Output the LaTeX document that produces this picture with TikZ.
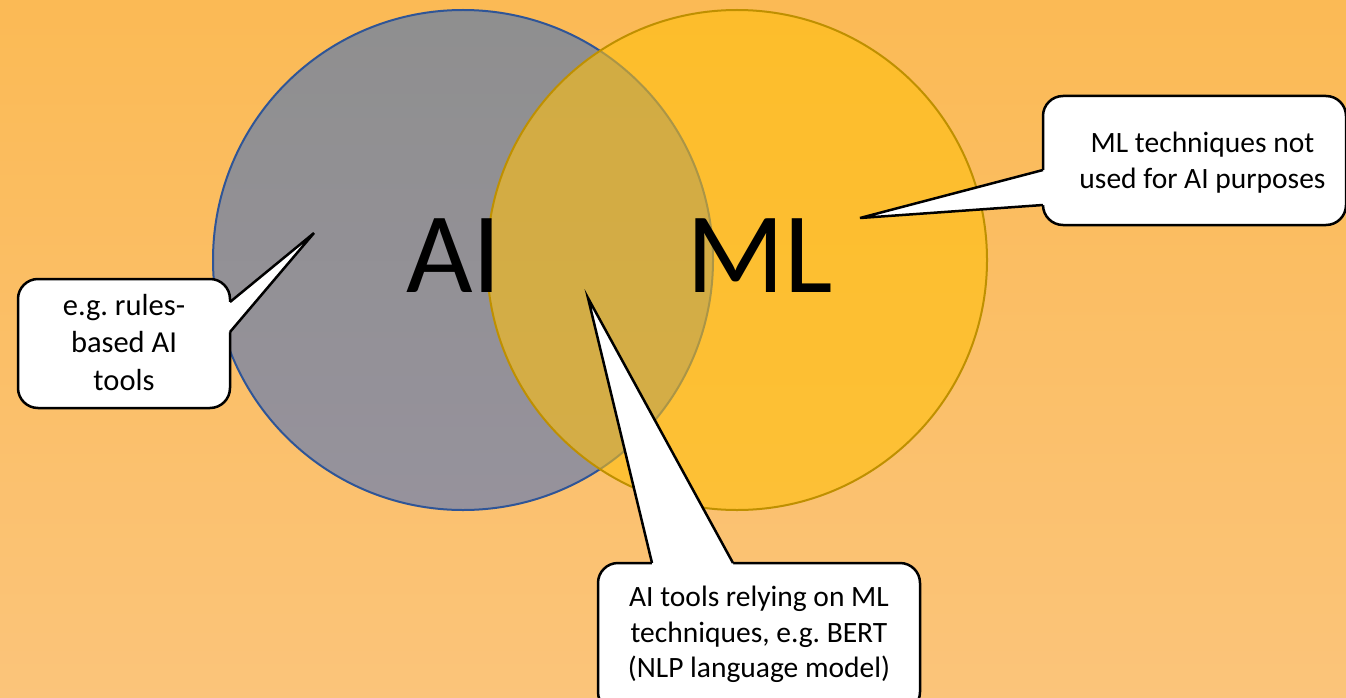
\documentclass[tikz,border=0pt]{standalone}
\usepackage{fontspec}
\setmainfont{Carlito}
\usetikzlibrary{calc}
\definecolor{bgtop}{HTML}{FBBA55}
\definecolor{bgbot}{HTML}{FBC47A}
\definecolor{aitop}{HTML}{8F8F8F}
\definecolor{aibot}{HTML}{96929C}
\definecolor{ailine}{HTML}{2F5597}
\definecolor{mlfill}{HTML}{FFC010}
\definecolor{mlline}{HTML}{BF9000}
\begin{document}
\frenchspacing
\begin{tikzpicture}[x=1pt,y=-1pt,
  calloutbox/.style={draw=black, line width=2.5pt, fill=white, rounded corners=20pt,
    inner sep=0pt, outer sep=0pt},
  callouttext/.style={align=center, font=\fontsize{29.5}{35.5}\selectfont, inner sep=0pt},
  wedgefill/.style={fill=white},
  wedgeline/.style={draw=black, line width=2.5pt, line join=miter},
  bigtext/.style={font=\fontsize{115}{130}\selectfont, anchor=base, inner sep=0pt}]
\useasboundingbox (0,0) rectangle (1346,698);
\clip (0,0) rectangle (1346,698);
\shade[top color=bgtop, bottom color=bgbot] (0,0) rectangle (1346,698);
% circles
\node[circle, minimum size=500pt, inner sep=0pt, outer sep=0pt, draw=ailine, line width=2pt,
  top color=aitop, bottom color=aibot] (ai) at (463,260) {};
\node[circle, minimum size=500pt, inner sep=0pt, outer sep=0pt, draw=mlline, line width=2pt,
  fill=mlfill, fill opacity=0.6, draw opacity=1] (ml) at (737,260) {};
\node[bigtext] (ailabel) at (454,292) {AI};
\node[bigtext] (mllabel) at (760,292) {ML};
% callout 1
\node[calloutbox, minimum width=212pt, minimum height=129pt] (c1) at (124,343.5) {};
\node[callouttext, font=\fontsize{30.5}{37.5}\selectfont] (c1text) at ($(c1.center)+(0,-1)$)
  {e.g. rules-\\based AI\\tools};
\coordinate (t1) at (314,233);
\path (c1.east) ++(0,-41.5) coordinate (c1a);
\path (c1.east) ++(0,-11.5) coordinate (c1b);
\fill[wedgefill] (c1a) -- (t1) -- (c1b) -- ($(c1b)+(-4,0)$) -- ($(c1a)+(-4,0)$) -- cycle;
\draw[wedgeline] (c1a) -- (t1) -- (c1b);
% callout 2
\node[calloutbox, minimum width=303pt, minimum height=129pt] (c2) at (1194.5,160.5) {};
\node[callouttext] (c2text) at ($(c2.center)+(8,2)$)
  {ML techniques not\\used for AI purposes};
\coordinate (t2) at (860,218);
\path (c2.west) ++(0,9.5) coordinate (c2a);
\path (c2.west) ++(0,44.5) coordinate (c2b);
\fill[wedgefill] (c2a) -- (t2) -- (c2b) -- ($(c2b)+(4,0)$) -- ($(c2a)+(4,0)$) -- cycle;
\draw[wedgeline] (c2a) -- (t2) -- (c2b);
% callout 3
\node[calloutbox, minimum width=322pt, minimum height=149pt] (c3) at (759,637.5) {};
\node[callouttext] (c3text) at ($(c3.center)+(0,-3)$)
  {AI tools relying on ML\\techniques, e.g. BERT\\(NLP language model)};
\coordinate (t3) at (588,298);
\path (c3.north) ++(-107,0) coordinate (c3a);
\path (c3.north) ++(-26,0) coordinate (c3b);
\fill[wedgefill] (c3a) -- (t3) -- (c3b) -- ($(c3b)+(0,4)$) -- ($(c3a)+(0,4)$) -- cycle;
\draw[wedgeline] (c3a) -- (t3) -- (c3b);
\end{tikzpicture}
\end{document}
